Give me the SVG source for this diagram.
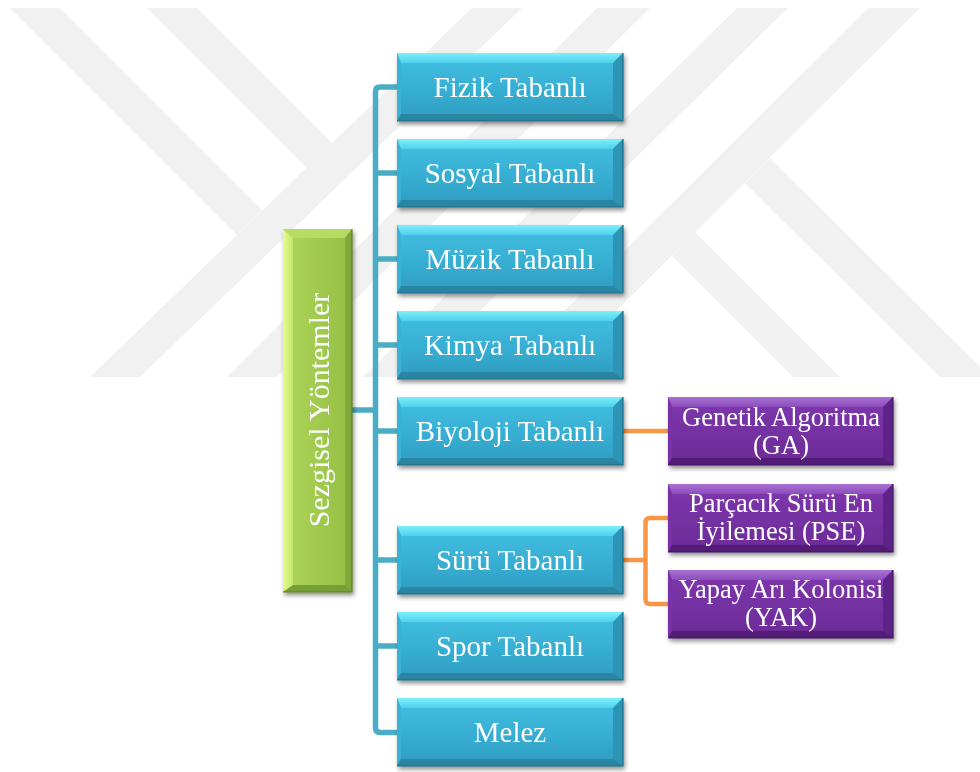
<svg xmlns="http://www.w3.org/2000/svg" xmlns:xlink="http://www.w3.org/1999/xlink" width="980" height="772" viewBox="0 0 980 772">
  <style>
    .wm { fill: #f1f1f1; }
    .lbl { font-family: "Liberation Serif", "Times New Roman", serif; fill: #ffffff; text-anchor: middle; }
    .blue-t { font-size: 29px; }
    .purple-t { font-size: 26.5px; }
    .green-t { font-size: 30px; }
    .link-b { fill: none; stroke: #4bacc6; stroke-width: 5.5; }
    .link-o { fill: none; stroke: #f79646; stroke-width: 4.5; }
  </style>
  <defs>
    <filter id="shadow" x="-10%" y="-10%" width="130%" height="140%">
      <feDropShadow dx="1.5" dy="3" stdDeviation="2" flood-color="#000" flood-opacity="0.42"/>
    </filter>

    <!-- blue bevel box -->
    <linearGradient id="blueFace" x1="0" y1="0" x2="0" y2="1">
      <stop offset="0" stop-color="#42c0e2"/>
      <stop offset="0.6" stop-color="#36acd1"/>
      <stop offset="1" stop-color="#2e9bbf"/>
    </linearGradient>
    <linearGradient id="blueTop" x1="0" y1="0" x2="0" y2="1">
      <stop offset="0" stop-color="#7cf0fc"/>
      <stop offset="1" stop-color="#4fd0ec"/>
    </linearGradient>
    <g id="blueBox">
      <rect x="0" y="0" width="226" height="68" fill="url(#blueFace)"/>
      <polygon points="0,0 226,0 216,10 4,10" fill="url(#blueTop)"/>
      <polygon points="0,0 4,10 4,61 0,68" fill="#39b2d6"/>
      <polygon points="226,0 216,10 216,61 226,68" fill="#2d94b5"/>
      <polygon points="0,68 4,61 216,61 226,68" fill="#2a85a2"/>
      <path d="M226 0 V68 H0" fill="none" stroke="#1f6c85" stroke-width="1.2"/>
    </g>

    <!-- purple bevel box -->
    <linearGradient id="purpleFace" x1="0" y1="0" x2="0" y2="1">
      <stop offset="0" stop-color="#7e37ad"/>
      <stop offset="1" stop-color="#6c2b98"/>
    </linearGradient>
    <linearGradient id="purpleTop" x1="0" y1="0" x2="0" y2="1">
      <stop offset="0" stop-color="#a972d2"/>
      <stop offset="1" stop-color="#8c4cbc"/>
    </linearGradient>
    <g id="purpleBox">
      <rect x="0" y="0" width="225" height="68" fill="url(#purpleFace)"/>
      <polygon points="0,0 225,0 215,10 4,10" fill="url(#purpleTop)"/>
      <polygon points="0,0 4,10 4,61 0,68" fill="#7833a6"/>
      <polygon points="225,0 215,10 215,61 225,68" fill="#5e2488"/>
      <polygon points="0,68 4,61 215,61 225,68" fill="#521e77"/>
      <path d="M225 0 V68 H0" fill="none" stroke="#3f145d" stroke-width="1.2"/>
    </g>

    <!-- green vertical bevel box -->
    <linearGradient id="greenFace" x1="0" y1="0" x2="1" y2="0">
      <stop offset="0" stop-color="#aed659"/>
      <stop offset="1" stop-color="#93bf45"/>
    </linearGradient>
    <linearGradient id="greenLeft" x1="0" y1="0" x2="1" y2="0">
      <stop offset="0" stop-color="#e6fc8e"/>
      <stop offset="1" stop-color="#c3e66b"/>
    </linearGradient>
  </defs>

  <!-- background -->
  <rect x="0" y="0" width="980" height="772" fill="#ffffff"/>

  <!-- watermark bands -->
  <g id="watermark">
    <polygon class="wm" points="10,8 60,8 262,210 237,235"/>
    <polygon class="wm" points="147,8 197,8 332,143 307,168"/>
    <polygon class="wm" points="472,8 522,8 140,377 90,377"/>
    <polygon class="wm" points="597,8 650,8 277,377 227,377"/>
    <polygon class="wm" points="737,8 788,8 413,377 363,377"/>
    <polygon class="wm" points="868,8 920,8 550,377 498,377"/>
    <polygon class="wm" points="672,256 695,232 840,377 793,377"/>
    <polygon class="wm" points="745,183 770,158 990,377 940,377"/>
  </g>

  <!-- connectors -->
  <g id="connectors">
    <path class="link-b" d="M352 410 H375.5"/>
    <path class="link-b" d="M397 87 H380 Q375.5 87 375.5 91.5 V728 Q375.5 732.5 380 732.5 H397"/>
    <path class="link-b" d="M375.5 173 H397"/>
    <path class="link-b" d="M375.5 259 H397"/>
    <path class="link-b" d="M375.5 345 H397"/>
    <path class="link-b" d="M375.5 431 H397"/>
    <path class="link-b" d="M375.5 560 H397"/>
    <path class="link-b" d="M375.5 646 H397"/>
    <path class="link-o" d="M623 431 H668"/>
    <path class="link-o" d="M623 560 H645.5"/>
    <path class="link-o" d="M668 518 H650 Q645.5 518 645.5 522.5 V599.5 Q645.5 604 650 604 H668"/>
  </g>

  <!-- root node -->
  <g id="node-sezgisel" filter="url(#shadow)">
    <rect x="283" y="229" width="69" height="363" fill="url(#greenFace)"/>
    <polygon points="283,229 293,238 293,585 283,592" fill="url(#greenLeft)"/>
    <polygon points="283,229 352,229 345,238 293,238" fill="#b6dc63"/>
    <polygon points="352,229 345,238 345,585 352,592" fill="#7fa73a"/>
    <polygon points="283,592 293,585 345,585 352,592" fill="#76a035"/>
    <path d="M352 229 V592 H283" fill="none" stroke="#5c7f27" stroke-width="1.2"/>
    <text class="lbl green-t" transform="translate(329,410) rotate(-90)" x="0" y="0">Sezgisel Yöntemler</text>
  </g>

  <!-- category nodes -->
  <g id="node-fizik" filter="url(#shadow)">
    <use xlink:href="#blueBox" x="397" y="53"/>
    <text class="lbl blue-t" x="510" y="97">Fizik Tabanlı</text>
  </g>
  <g id="node-sosyal" filter="url(#shadow)">
    <use xlink:href="#blueBox" x="397" y="139"/>
    <text class="lbl blue-t" x="510" y="183">Sosyal Tabanlı</text>
  </g>
  <g id="node-muzik" filter="url(#shadow)">
    <use xlink:href="#blueBox" x="397" y="225"/>
    <text class="lbl blue-t" x="510" y="269">Müzik Tabanlı</text>
  </g>
  <g id="node-kimya" filter="url(#shadow)">
    <use xlink:href="#blueBox" x="397" y="311"/>
    <text class="lbl blue-t" x="510" y="355">Kimya Tabanlı</text>
  </g>
  <g id="node-biyoloji" filter="url(#shadow)">
    <use xlink:href="#blueBox" x="397" y="397"/>
    <text class="lbl blue-t" x="510" y="441">Biyoloji Tabanlı</text>
  </g>
  <g id="node-suru" filter="url(#shadow)">
    <use xlink:href="#blueBox" x="397" y="526"/>
    <text class="lbl blue-t" x="510" y="570">Sürü Tabanlı</text>
  </g>
  <g id="node-spor" filter="url(#shadow)">
    <use xlink:href="#blueBox" x="397" y="612"/>
    <text class="lbl blue-t" x="510" y="656">Spor Tabanlı</text>
  </g>
  <g id="node-melez" filter="url(#shadow)">
    <use xlink:href="#blueBox" x="397" y="698"/>
    <text class="lbl blue-t" x="510" y="742">Melez</text>
  </g>

  <!-- algorithm nodes -->
  <g id="node-ga" filter="url(#shadow)">
    <use xlink:href="#purpleBox" x="668" y="397"/>
    <text class="lbl purple-t" x="781" y="426">Genetik Algoritma</text>
    <text class="lbl purple-t" x="781" y="454">(GA)</text>
  </g>
  <g id="node-pse" filter="url(#shadow)">
    <use xlink:href="#purpleBox" x="668" y="484"/>
    <text class="lbl purple-t" x="781" y="512">Parçacık Sürü En</text>
    <text class="lbl purple-t" x="781" y="540">İyilemesi (PSE)</text>
  </g>
  <g id="node-yak" filter="url(#shadow)">
    <use xlink:href="#purpleBox" x="668" y="570"/>
    <text class="lbl purple-t" x="781" y="598">Yapay Arı Kolonisi</text>
    <text class="lbl purple-t" x="781" y="626">(YAK)</text>
  </g>
</svg>
